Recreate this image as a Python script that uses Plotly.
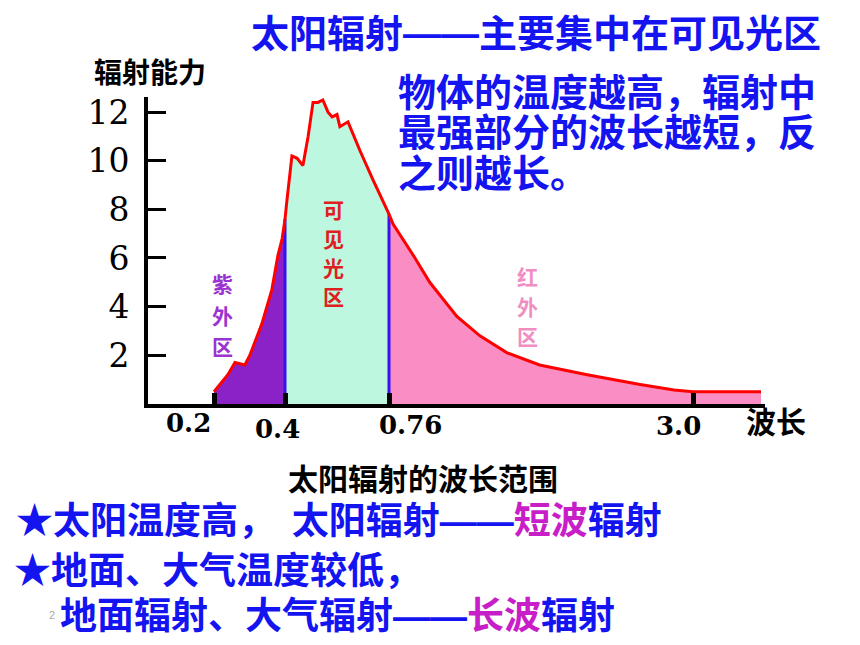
import numpy as np
import plotly.graph_objects as go

# ---------------- data ----------------
wavelength = [0.2, 0.239, 0.259, 0.287, 0.301, 0.335, 0.363, 0.380, 0.392, 0.4,
              0.407, 0.424, 0.442, 0.462, 0.480, 0.497, 0.514, 0.531, 0.549, 0.563,
              0.580, 0.590, 0.618, 0.660, 0.705, 0.753, 0.76,
              0.79, 0.94, 1.06, 1.26, 1.43, 1.63, 1.87, 2.22, 2.61, 2.86, 3.0, 3.5]
energy = [0.5, 1.2, 1.7, 1.6, 2.0, 3.3, 4.7, 6.1, 6.8, 7.6,
          8.4, 10.2, 10.1, 9.8, 11.0, 12.4, 12.4, 12.5, 12.0, 11.8,
          11.9, 11.4, 11.6, 10.4, 9.2, 8.0, 7.8,
          7.4, 6.1, 5.0, 3.6, 2.8, 2.1, 1.6, 1.2, 0.8, 0.57, 0.5, 0.5]
x_ticks = [0.2, 0.4, 0.76, 3.0]
x_tick_labels = ["0.2", "0.4", "0.76", "3.0"]
y_ticks = [2, 4, 6, 8, 10, 12]
band_names = ["紫外区", "可见光区", "红外区"]
band_lo = [0.2, 0.4, 0.76]
band_hi = [0.4, 0.76, 3.5]
boundaries = [0.4, 0.76]

# ---------------- the picture's non-linear wavelength scale ----------------
SCALE_WL = [0.0, 0.2, 0.4, 0.76, 3.0, 4.0]
SCALE_POS = [0, 66, 137, 241, 545, 681]


def xs(w):
    return np.interp(w, SCALE_WL, SCALE_POS)


W, H = 860, 645


def px(x):
    return x / W


def py(y):
    return 1 - y / H


BLUE = "#1414F0"
MAG = "#C81EC8"
FILLS = ["#8A22C8", "#BDF7DF", "#FA8EC4"]
LABEL_COLORS = ["#9B33D0", "#E02020", "#F08EC2"]
DASH = "<span style='font-family:Liberation Sans'>——</span>"

wl = np.array(wavelength)
en = np.array(energy)

fig = go.Figure()

# coloured bands
for lo, hi, col in zip(band_lo, band_hi, FILLS):
    m = (wl >= lo) & (wl <= hi)
    fig.add_trace(go.Scatter(x=xs(wl[m]), y=en[m], mode="lines", fill="tozeroy",
                             fillcolor=col, line=dict(width=0, color=col),
                             hoverinfo="skip", showlegend=False))

# blue boundary lines
for b in boundaries:
    fig.add_trace(go.Scatter(x=[xs(b), xs(b)], y=[0, float(np.interp(b, wl, en))],
                             mode="lines", line=dict(color="#3A10F0", width=3),
                             hoverinfo="skip", showlegend=False))

# red curve
fig.add_trace(go.Scatter(x=xs(wl), y=en, mode="lines",
                         line=dict(color="#FF0000", width=3),
                         showlegend=False))

ann = []
SERIF = "DejaVu Serif"
CJK = "Noto Sans CJK SC"


def text_at(x, y, text, size, color, family=CJK, xanchor="center", bold=True):
    lift = 0.19 * size if family == CJK else 0
    ann.append(dict(x=px(x), y=py(y), xref="paper", yref="paper", text=text,
                    showarrow=False, xanchor=xanchor, yanchor="middle", yshift=lift,
                    font=dict(family=family, size=size, color=color,
                              weight="bold" if bold else "normal")))


# x tick labels (offset as in the picture)
shifts = [-26, -8, 21, -15]
ylab = [421, 427, 423, 424]
for t, lab, s, yy in zip(x_ticks, x_tick_labels, shifts, ylab):
    ann.append(dict(x=float(xs(t)), xref="x", y=py(yy), yref="paper", text=lab,
                    xshift=s, showarrow=False, xanchor="center", yanchor="middle",
                    font=dict(family=SERIF, size=26, color="black", weight="bold")))

text_at(776, 424, "波长", 30, "black")
text_at(150, 72, "辐射能力", 28, "black")
text_at(423, 481, "太阳辐射的波长范围", 30, "black")

# vertical band labels
band_x = [222, 333, 527]
band_y0 = [284, 210, 277]
band_step = [32, 29, 30.5]
for name, bx, by, st, col in zip(band_names, band_x, band_y0, band_step, LABEL_COLORS):
    for i, ch in enumerate(name):
        text_at(bx, by + i * st, ch, 21, col)

# title and explanatory text
text_at(249, 33, "太阳辐射" + DASH + "主要集中在可见光区", 38, BLUE, xanchor="left")
right_lines = ["物体的温度越高，辐射中", "最强部分的波长越短，反", "之则越长。"]
for i, line in enumerate(right_lines):
    text_at(396, 92 + i * 41, line, 38, BLUE, xanchor="left")

bottom = [
    (14, 524, "★太阳温度高，  太阳辐射" + DASH + "<span style='color:%s'>短波</span>辐射" % MAG),
    (12, 574, "★地面、大气温度较低，"),
    (58, 620, "地面辐射、大气辐射" + DASH + "<span style='color:%s'>长波</span>辐射" % MAG),
]
for bx, by, txt in bottom:
    text_at(bx, by, txt, 37, BLUE, xanchor="left")
text_at(52, 615, "2", 11, "#AAAAAA", family="Liberation Sans", bold=False)

fig.update_layout(
    width=W, height=H,
    margin=dict(l=0, r=0, t=0, b=0),
    paper_bgcolor="white", plot_bgcolor="white",
    showlegend=False,
    annotations=ann,
    xaxis=dict(domain=[px(148), px(765)], range=[0, 617], showgrid=False, zeroline=False,
               showline=True, linecolor="black", linewidth=4,
               tickvals=[float(v) for v in xs(x_ticks)], ticks="inside", ticklen=11,
               tickwidth=5, tickcolor="black", showticklabels=False, fixedrange=True),
    yaxis=dict(domain=[py(402), py(93)], range=[0, 12.61], showgrid=False, zeroline=False,
               showline=True, linecolor="black", linewidth=4,
               tickvals=y_ticks, ticktext=[str(v) for v in y_ticks],
               ticks="inside", ticklen=18, tickwidth=3, tickcolor="black",
               tickfont=dict(family=SERIF, size=33, color="black"),
               ticklabelstandoff=8, fixedrange=True),
)

fig.write_html("out.html", config={"displayModeBar": False},
               post_script="document.body.style.margin='0';document.body.style.padding='0';")
